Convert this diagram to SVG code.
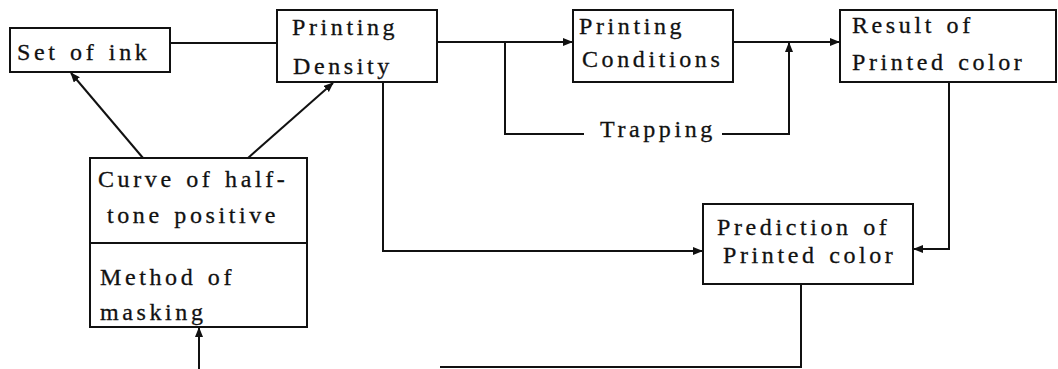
<svg xmlns="http://www.w3.org/2000/svg" width="1058" height="369" viewBox="0 0 1058 369">
<style>
.box{fill:#fff;stroke:#111;stroke-width:2}
.ln{fill:none;stroke:#111;stroke-width:2}
text{font-family:'Liberation Serif','DejaVu Serif','Times New Roman',serif;font-size:24px;letter-spacing:3.6px;word-spacing:2px;fill:#111;stroke:#111;stroke-width:0.3}
</style>
<defs>
<marker id="ah" markerUnits="userSpaceOnUse" markerWidth="12" markerHeight="10" refX="9" refY="4" orient="auto">
<path d="M0,0 L10,4 L0,8 Z" fill="#111"/>
</marker>
</defs>
<rect width="1058" height="369" fill="#fff"/>
<g id="connectors">
<line class="ln" x1="170" y1="43" x2="277" y2="43"/>
<line class="ln" x1="437" y1="42" x2="572" y2="42" marker-end="url(#ah)"/>
<line class="ln" x1="733" y1="42" x2="839" y2="42" marker-end="url(#ah)"/>
<polyline class="ln" points="505,42 505,134 584,134"/>
<polyline class="ln" points="722,134 789,134 789,43" marker-end="url(#ah)"/>
<polyline class="ln" points="383,82 383,251 702,251" marker-end="url(#ah)"/>
<polyline class="ln" points="949,82 949,249 914,249" marker-end="url(#ah)"/>
<polyline class="ln" points="801,284 801,367 440,367"/>
<line class="ln" x1="199" y1="369" x2="199" y2="328" marker-end="url(#ah)"/>
<line class="ln" x1="143" y1="158" x2="71" y2="73" marker-end="url(#ah)"/>
<line class="ln" x1="248" y1="158" x2="333" y2="83" marker-end="url(#ah)"/>
</g>
<g id="set-of-ink">
<rect class="box" x="10" y="28" width="160" height="44"/>
<text x="17" y="60">Set of ink</text>
</g>
<g id="printing-density">
<rect class="box" x="277" y="10" width="160" height="72"/>
<text x="292" y="35">Printing</text>
<text x="293" y="74">Density</text>
</g>
<g id="printing-conditions">
<rect class="box" x="573" y="10" width="160" height="72"/>
<text x="579" y="34">Printing</text>
<text x="582" y="67">Conditions</text>
</g>
<g id="result">
<rect class="box" x="840" y="10" width="216" height="72"/>
<text x="852" y="33">Result of</text>
<text x="852" y="70">Printed color</text>
</g>
<g id="trapping">
<text x="600" y="137">Trapping</text>
</g>
<g id="curve-masking">
<rect class="box" x="90" y="158" width="217" height="85"/>
<rect class="box" x="90" y="243" width="217" height="84"/>
<text x="98" y="187">Curve of half-</text>
<text x="107" y="223">tone positive</text>
<text x="100" y="285">Method of</text>
<text x="100" y="320">masking</text>
</g>
<g id="prediction">
<rect class="box" x="703" y="204" width="210" height="80"/>
<text x="717" y="235">Prediction of</text>
<text x="723" y="263">Printed color</text>
</g>
</svg>
